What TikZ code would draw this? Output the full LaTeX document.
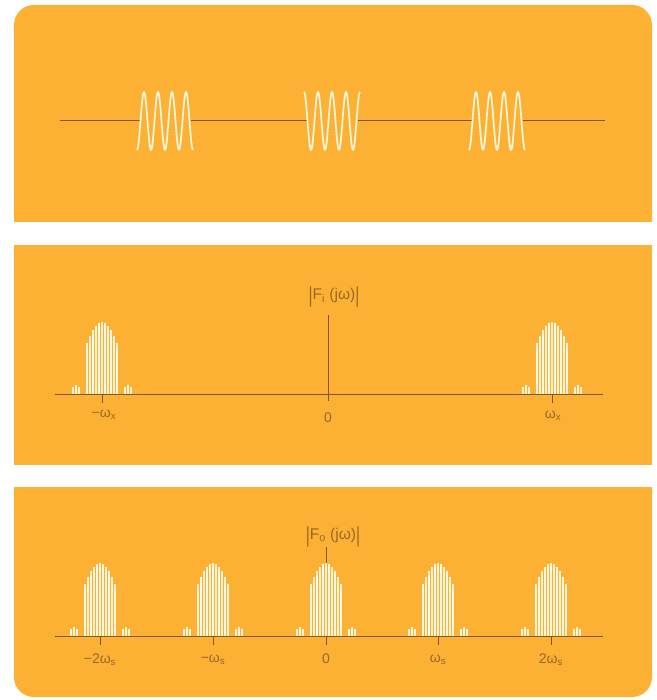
\documentclass[tikz,border=0pt]{standalone}
\usepackage{graphicx}
\usepackage{fontspec}
\setmainfont{Liberation Sans}
\definecolor{panel}{RGB}{253,177,52}
\definecolor{ink}{RGB}{128,88,28}
\definecolor{labelc}{RGB}{150,105,38}
\definecolor{cream}{RGB}{255,246,222}
\newcommand\mylobe[3]{%
  \foreach \d in {-15,-12,...,15}
    \draw[barline] ({#1+\d},#2) -- ++(0,{-#3*cos(3*\d)});
  \foreach \s in {-26,26}
    \foreach \d in {-3,0,3}
      \draw[barline] ({#1+\s+\d},#2) -- ++(0,{-7-2*(\d==0)});
}
\newcommand\tallbar{\raisebox{-0.22em}{\scalebox{1}[1.4]{|}}}
\begin{document}
\begin{tikzpicture}[x=1pt,y=-1pt,
  barline/.style={cream,line width=2.1pt},
  sig/.style={ink,line width=1pt},
  wave/.style={cream,line width=1.7pt,line join=round},
  axisline/.style={ink,line width=1pt},
  ticklabel/.style={text=labelc,inner sep=0pt,font=\fontsize{14}{16}\selectfont},
  flabel/.style={text=labelc,inner sep=0pt,font=\fontsize{15.5}{18}\selectfont}]
\useasboundingbox (0,0) rectangle (656,700);
\fill[white] (0,0) rectangle (656,700);
% panels
\fill[panel] (14,222) [rounded corners=20]-- (14,5) -- (652,5) [sharp corners]-- (652,222) -- cycle;
\fill[panel] (14,245) rectangle (652,465);
\fill[panel] (14,487) [rounded corners=20]-- (14,697) -- (652,697) [sharp corners]-- (652,487) -- cycle;

% ---------- panel 1: signal ----------
\coordinate (s0) at (60,121);
\coordinate (p1a) at (140.5,121);
\coordinate (p1b) at (190.5,121);
\coordinate (p2a) at (307.5,121);
\coordinate (p2b) at (357.5,121);
\coordinate (p3a) at (472.5,121);
\coordinate (p3b) at (522.5,121);
\coordinate (s1) at (605,121);
\draw[sig] (s0) -- (p1a);
\draw[sig] (p1b) -- (p2a);
\draw[sig] (p2b) -- (p3a);
\draw[sig] (p3b) -- (s1);
\draw[wave] plot[domain=0:56,samples=160,smooth] ({137+\x},{121+29*cos(\x*25.7143)});
\draw[wave] plot[domain=0:56,samples=160,smooth] ({304+\x},{121-29*cos(\x*25.7143)});
\draw[wave] plot[domain=0:56,samples=160,smooth] ({469+\x},{121+29*cos(\x*25.7143)});

% ---------- panel 2: input spectrum ----------
\coordinate (a2l) at (55,394);
\coordinate (a2r) at (603,394);
\coordinate (v2b) at (328,401);
\coordinate (v2t) at (328,315);
\node[flabel] (fi) at (334,297) {\tallbar F\textsubscript{i} (jω)\tallbar};
\mylobe{102}{394}{72}
\mylobe{552}{394}{72}
\draw[axisline] (a2l) -- (a2r);
\draw[axisline] (v2b) -- (v2t);
\coordinate (t2a) at (102,394); \coordinate (t2ab) at (102,403);
\coordinate (t2b) at (552,394); \coordinate (t2bb) at (552,403);
\draw[axisline] (t2a) -- (t2ab);
\draw[axisline] (t2b) -- (t2bb);
\node[ticklabel] (l2a) at (104,415) {−ω\textsubscript{x}};
\node[ticklabel] (l2o) at (328,418) {0};
\node[ticklabel] (l2b) at (553,416) {ω\textsubscript{x}};

% ---------- panel 3: output spectrum ----------
\coordinate (a3l) at (55,636);
\coordinate (a3r) at (603,636);
\node[flabel] (fo) at (333,537) {\tallbar F\textsubscript{o} (jω)\tallbar};
\coordinate (c0) at (326,636);
\draw[axisline] (c0 |- fo.south) -- (c0);
\mylobe{100}{636}{73}
\mylobe{213}{636}{73}
\mylobe{326}{636}{73}
\mylobe{438}{636}{73}
\mylobe{551}{636}{73}
\draw[axisline] (a3l) -- (a3r);
\foreach \n/\x in {m2/100,m1/213,z/326,p1/438,p2/551}{
  \coordinate (t\n) at (\x,636);
  \coordinate (t\n b) at (\x,645);
  \draw[axisline] (t\n) -- (t\n b);
}
\node[ticklabel] (l3m2) at (100,660) {−2ω\textsubscript{s}};
\node[ticklabel] (l3m1) at (213,660) {−ω\textsubscript{s}};
\node[ticklabel] (l3z) at (326,659) {0};
\node[ticklabel] (l3p1) at (438,660) {ω\textsubscript{s}};
\node[ticklabel] (l3p2) at (551,660) {2ω\textsubscript{s}};
\end{tikzpicture}
\end{document}
